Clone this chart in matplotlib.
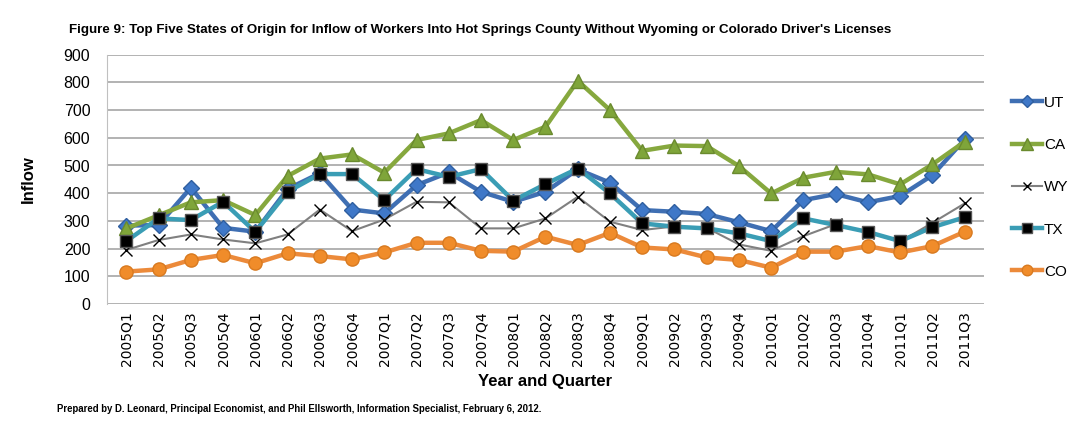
import matplotlib
matplotlib.use('Agg')
import matplotlib.pyplot as plt

# DATOS
trimestres = ['2005Q1', '2005Q2', '2005Q3', '2005Q4', '2006Q1', '2006Q2', '2006Q3', '2006Q4',
              '2007Q1', '2007Q2', '2007Q3', '2007Q4', '2008Q1', '2008Q2', '2008Q3', '2008Q4',
              '2009Q1', '2009Q2', '2009Q3', '2009Q4', '2010Q1', '2010Q2', '2010Q3', '2010Q4',
              '2011Q1', '2011Q2', '2011Q3']

ut = [283, 285, 420, 275, 261, 415, 472, 341, 327, 429, 475, 405, 369, 405, 486, 438,
      339, 333, 325, 295, 263, 375, 397, 367, 390, 465, 594]
ca = [273, 320, 367, 375, 321, 462, 525, 540, 474, 592, 616, 664, 592, 640, 806, 700,
      553, 572, 570, 498, 399, 456, 477, 468, 432, 504, 586]
wy = [195, 231, 251, 233, 219, 251, 341, 263, 305, 369, 367, 273, 273, 309, 387, 297,
      267, 280, 275, 215, 192, 245, 288, 258, 225, 293, 363]
tx = [227, 309, 303, 369, 260, 405, 469, 469, 375, 487, 459, 487, 373, 433, 489, 399,
      291, 279, 273, 255, 227, 309, 285, 260, 227, 277, 313]
co = [117, 125, 159, 177, 147, 183, 173, 161, 186, 221, 221, 192, 189, 243, 213, 257,
      204, 197, 168, 159, 131, 189, 189, 209, 186, 209, 261]

TITULO = ("Figure 9: Top Five States of Origin for Inflow of Workers Into Hot Springs County "
          "Without Wyoming or Colorado Driver's Licenses")
PIE = ("Prepared by D. Leonard, Principal Economist, and Phil Ellsworth, Information Specialist, "
       "February 6, 2012.")

FUENTE = 'Liberation Sans'

fig = plt.figure(figsize=(10.88, 4.36), dpi=100)
ax = fig.add_axes([107 / 1088, 1 - 304 / 436, (984 - 107) / 1088, (304 - 54.7) / 436])

x = list(range(len(trimestres)))

ax.plot(x, ut, color='#3f6fb3', lw=3.2, marker='D', ms=8, mfc='#3f78c8', mec='#2f5f9f',
        label='UT')
ax.plot(x, ca, color='#86a83e', lw=3.2, marker='^', ms=10, mfc='#7fa53a', mec='#6a8a2e',
        label='CA')
ax.plot(x, wy, color='#808080', lw=1.5, marker='x', ms=8, mec='black', mew=1,
        label='WY')
ax.plot(x, tx, color='#3a9db5', lw=3.2, marker='s', ms=9, mfc='black', mec='#555555',
        label='TX')
ax.plot(x, co, color='#ec8a3a', lw=3.2, marker='o', ms=9.5, mfc='#f08c2a', mec='#d87a20',
        label='CO')

ax.set_xlim(-0.6, len(trimestres) - 0.4)
ax.set_ylim(0, 900)
ax.set_yticks(range(0, 1000, 100))
ax.set_xticks(x)
ax.set_xticklabels(trimestres, rotation=90, fontsize=10, family='DejaVu Sans')
ax.tick_params(axis='y', labelsize=11.5, length=0, pad=12)
ax.tick_params(axis='x', length=0, pad=5)
for lbl in ax.get_yticklabels():
    lbl.set_family(FUENTE)

ax.grid(axis='y', color='#a6a6a6', lw=1.2)
ax.set_axisbelow(True)
for lado in ['top', 'right', 'bottom']:
    ax.spines[lado].set_visible(False)
ax.spines['left'].set_color('#c0c0c0')

ax.set_ylabel('Inflow', fontsize=12, fontweight='bold', family=FUENTE, labelpad=20)
ax.set_xlabel('Year and Quarter', fontsize=12, fontweight='bold', family=FUENTE, labelpad=6)

fig.text(69 / 1088, 1 - 30 / 436, TITULO, fontsize=9.6, fontweight='bold', family=FUENTE,
         va='center', ha='left')
fig.text(57 / 1088, 1 - 409 / 436, PIE, fontsize=6.9, fontweight='bold', family=FUENTE,
         va='center', ha='left')

fig.legend(loc='upper left', bbox_to_anchor=(998 / 1088, 1 - 82 / 436), frameon=False,
           handlelength=2.0, handletextpad=0.1, labelspacing=1.85, markerscale=0.8,
           prop={'family': FUENTE, 'size': 11})

fig.savefig('out.png', dpi=100)
